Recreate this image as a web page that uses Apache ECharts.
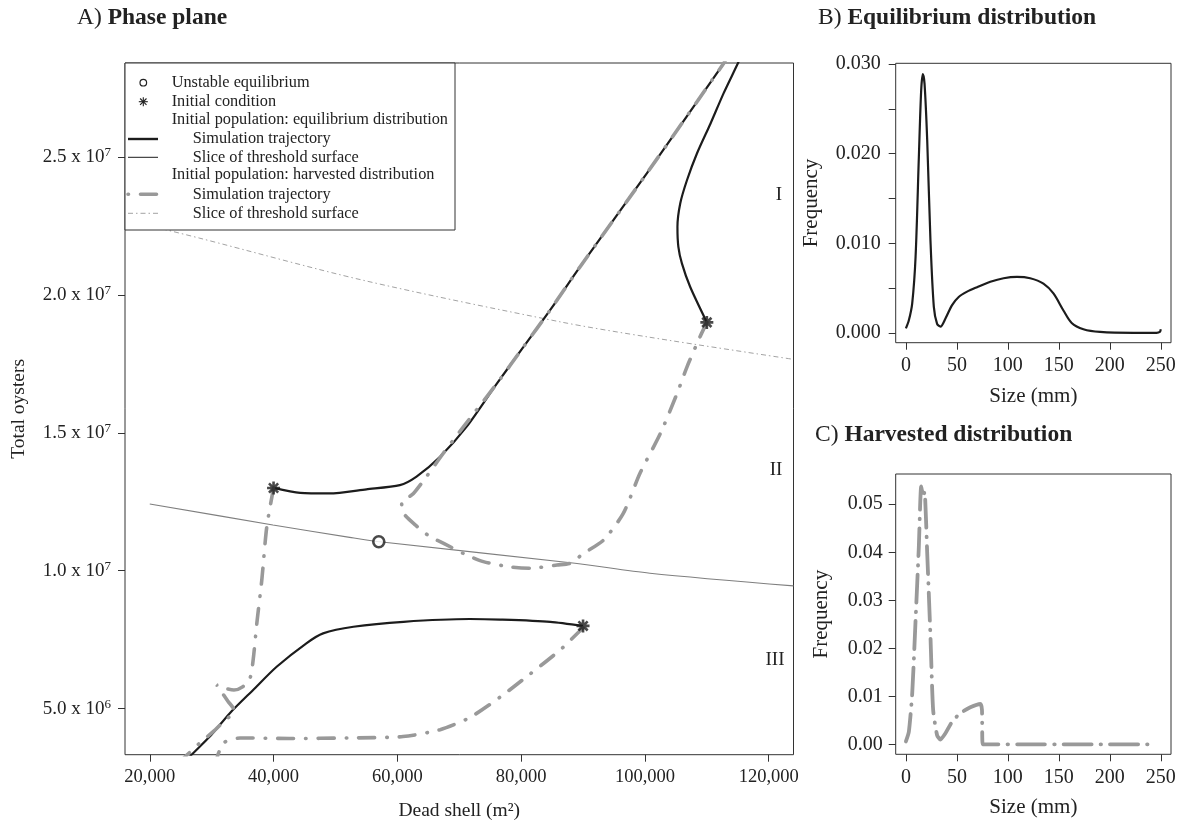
<!DOCTYPE html>
<html>
<head>
<meta charset="utf-8">
<title>Oyster phase plane</title>
<script src="https://cdn.jsdelivr.net/npm/echarts@6/dist/echarts.min.js"></script>
<style>
  html, body { margin: 0; padding: 0; background: #fff; }
  #chart { width: 1183px; height: 826px; }
</style>
</head>
<body>
<div id="chart"></div>
<script>
// values
const xTicks = [20000, 40000, 60000, 80000, 100000, 120000];
const yTicks = [5e6, 10e6, 15e6, 20e6, 25e6];
const sizeTicks = [0, 50, 100, 150, 200, 250];
const freqTicksB = [0, 0.005, 0.01, 0.015, 0.02, 0.025, 0.03];
const freqLabelsB = [0, 0.01, 0.02, 0.03];
const freqTicksC = [0, 0.01, 0.02, 0.03, 0.04, 0.05];

const unstableEq = [[57000, 11.05e6]];
const initialConds = [[110000, 19.0e6], [40000, 13.0e6], [90000, 8.0e6]];

// slices of the threshold surface
const sliceEquil = [[20000, 12.42e6], [39900, 11.66e6], [52300, 11.21e6], [56800, 11.06e6],
  [88700, 10.27e6], [100800, 9.91e6], [124000, 9.45e6]];
const sliceHarv = [[20000, 22.5e6], [28100, 22.05e6], [54400, 20.53e6], [86300, 19.02e6],
  [100800, 18.46e6], [124000, 17.66e6]];

// simulation trajectories, equilibrium initial distribution
const trajEquil1 = [[110000, 19.0e6], [107300, 20.29e6], [105970, 21.14e6], [105400, 21.74e6],
  [105250, 22.46e6], [105700, 23.31e6], [106800, 24.16e6], [108400, 25.12e6], [110600, 26.21e6],
  [112700, 27.30e6], [115000, 28.38e6], [115400, 28.6e6]];
const trajEquil2 = [[40000, 13.0e6], [44300, 12.82e6], [49000, 12.80e6], [55000, 12.95e6],
  [60400, 13.10e6], [63100, 13.41e6], [66900, 14.13e6], [71200, 15.22e6], [76100, 16.79e6],
  [80400, 18.12e6], [84700, 19.45e6], [89500, 21.01e6], [100300, 24.40e6], [112700, 28.38e6],
  [113000, 28.5e6]];
const trajEquil3 = [[90000, 8.0e6], [84700, 8.15e6], [76600, 8.23e6], [71700, 8.25e6],
  [61000, 8.15e6], [52900, 7.97e6], [48000, 7.73e6], [45300, 7.37e6], [40500, 6.52e6],
  [36700, 5.68e6], [32900, 4.83e6], [29700, 3.99e6], [26700, 3.32e6], [25800, 3.1e6]];

// simulation trajectories, harvested initial distribution
const trajHarv1 = [[110000, 19.0e6], [108900, 18.48e6], [106800, 17.39e6], [105200, 16.43e6],
  [102500, 14.98e6], [99200, 13.53e6], [96500, 12.08e6], [93300, 11.11e6], [90100, 10.63e6],
  [87900, 10.27e6], [85800, 10.21e6], [81500, 10.09e6], [78200, 10.14e6], [73900, 10.33e6],
  [71200, 10.57e6], [67400, 11.0e6], [65300, 11.23e6], [62900, 11.66e6], [61000, 12.08e6],
  [60700, 12.44e6], [62600, 12.80e6], [64700, 13.41e6], [67400, 14.25e6], [70700, 15.22e6],
  [76100, 16.79e6], [80400, 18.12e6], [84700, 19.45e6], [89500, 21.01e6], [100300, 24.40e6],
  [112700, 28.38e6], [113000, 28.5e6]];
const trajHarv2 = [[40000, 13.0e6], [38900, 11.58e6], [38100, 9.66e6], [37300, 8.10e6],
  [36700, 6.76e6], [36200, 6.11e6], [35000, 5.79e6], [33600, 5.68e6], [32000, 5.75e6],
  [30800, 5.86e6], [32600, 5.28e6], [33700, 4.92e6], [32000, 4.55e6], [30200, 4.16e6],
  [28100, 3.76e6], [26000, 3.32e6], [24900, 3.07e6]];
const trajHarv3 = [[90000, 7.93e6], [86300, 7.13e6], [81400, 6.25e6], [76600, 5.42e6],
  [71700, 4.68e6], [66900, 4.24e6], [60900, 3.99e6], [52300, 3.94e6], [42600, 3.92e6],
  [34600, 3.94e6], [32900, 3.87e6], [31900, 3.75e6], [31000, 3.33e6], [30800, 3.1e6]];

// size distributions
const sizeB = [0, 2.9, 6.2, 9.5, 12.7, 15.0, 16.6, 18.3, 20.9, 24.1, 27.4, 30.6, 33.9, 38.8,
  45.3, 51.8, 60, 69.8, 82.8, 95.8, 108.9, 121.9, 134.9, 144.7, 154.5, 162.6, 174.1, 190.4,
  223, 245.8, 249, 250];
const freqB = [0.0005, 0.0014, 0.0033, 0.0085, 0.0196, 0.0271, 0.0289, 0.0278, 0.0215, 0.0103,
  0.0029, 0.0010, 0.0007, 0.0016, 0.0031, 0.0040, 0.0046, 0.0051, 0.0057, 0.0061, 0.00625,
  0.0061, 0.0055, 0.0044, 0.0025, 0.0011, 0.0004, 0.0001, 0.0, 0.0, 0.0001, 0.0004];
const sizeC = [0, 2.9, 6.2, 9.5, 12.7, 15.0, 17.0, 18.3, 20.9, 24.1, 26.7, 30.6, 33.9, 38.8,
  45.3, 53.5, 63.2, 73.0, 74.6, 75.3, 79.5, 120, 160, 200, 242.5];
const freqC = [0.0006, 0.0026, 0.0106, 0.0259, 0.0412, 0.0537, 0.0516, 0.0526, 0.0398, 0.0224,
  0.0072, 0.0019, 0.0010, 0.0023, 0.0047, 0.0065, 0.0077, 0.0084, 0.0072, 0.0, 0.0, 0.0, 0.0,
  0.0, 0.0];

const FONT = '"Liberation Serif", "Times New Roman", serif';
const INK = '#1c1c1c';
const GREY = '#999999';
const harvDash = [16, 12, 0.5, 12];

const starPath = 'path://M-5,-1L5,-1L5,1L-5,1Z M-1,-5L1,-5L1,5L-1,5Z ' +
  'M-2.83,-4.24L4.24,2.83L2.83,4.24L-4.24,-2.83Z M-4.24,2.83L2.83,-4.24L4.24,-2.83L-2.83,4.24Z';

function zip(xs, ys) {
  return xs.map((x, i) => [x, ys[i]]);
}

function sci(v) {
  const e = Math.floor(Math.log10(v) + 1e-9);
  const m = v / Math.pow(10, e);
  return '{n|' + m.toFixed(1) + ' x 10}{s|' + e + '}';
}

const chart = echarts.init(document.getElementById('chart'));

function trajLine(data, grey) {
  return {
    type: 'line', xAxisIndex: 0, yAxisIndex: 0, data: data,
    showSymbol: false, symbol: 'none', smooth: 0.25, z: grey ? 4 : 3,
    lineStyle: grey
      ? { color: GREY, width: 3.6, type: harvDash, cap: 'round' }
      : { color: INK, width: 2.2 }
  };
}

const axisBase = {
  axisLine: { show: false, onZero: false },
  splitLine: { show: false },
  axisTick: { show: true, inside: false, length: 7, lineStyle: { color: '#333', width: 1 } }
};

// legend drawn by hand (R style box)
const legRows = [82.7, 101.7, 120, 139, 157.3, 175, 194.3, 213.3];
const legTexts = [
  [171.7, 'Unstable equilibrium'],
  [171.7, 'Initial condition'],
  [171.7, 'Initial population: equilibrium distribution'],
  [192.7, 'Simulation trajectory'],
  [192.7, 'Slice of threshold surface'],
  [171.7, 'Initial population: harvested distribution'],
  [192.7, 'Simulation trajectory'],
  [192.7, 'Slice of threshold surface']
];
const legend = [
  { type: 'rect', z: 50, shape: { x: 125, y: 63, width: 330, height: 167 },
    style: { fill: '#fff', stroke: '#333', lineWidth: 1 } },
  { type: 'circle', z: 51, shape: { cx: 143.3, cy: legRows[0], r: 3.3 },
    style: { fill: 'none', stroke: '#222', lineWidth: 1.2 } }
];
[[0, 4.5], [4.5, 0], [3.2, 3.2], [3.2, -3.2]].forEach(d => {
  legend.push({ type: 'line', z: 51,
    shape: { x1: 143.3 - d[0], y1: legRows[1] - d[1], x2: 143.3 + d[0], y2: legRows[1] + d[1] },
    style: { stroke: '#222', lineWidth: 1.1 } });
});
legend.push(
  { type: 'line', z: 51, shape: { x1: 128, y1: legRows[3], x2: 158, y2: legRows[3] },
    style: { stroke: INK, lineWidth: 2.4 } },
  { type: 'line', z: 51, shape: { x1: 128, y1: legRows[4], x2: 158, y2: legRows[4] },
    style: { stroke: INK, lineWidth: 1 } },
  { type: 'line', z: 51, shape: { x1: 128, y1: legRows[6], x2: 158, y2: legRows[6] },
    style: { stroke: GREY, lineWidth: 3.6, lineDash: harvDash, lineDashOffset: 28, lineCap: 'round' } },
  { type: 'line', z: 51, shape: { x1: 128, y1: legRows[7], x2: 158, y2: legRows[7] },
    style: { stroke: GREY, lineWidth: 0.9, lineDash: [5, 3, 1.5, 3] } }
);
legTexts.forEach((t, i) => {
  legend.push({ type: 'text', z: 51,
    style: { text: t[1], x: t[0], y: legRows[i], font: '16.3px ' + FONT, fill: '#222',
      textVerticalAlign: 'middle', verticalAlign: 'middle' } });
});

function panelTitle(x, y, tag, name) {
  return { type: 'text', z: 20,
    style: { x: x, y: y, text: '{r|' + tag + ' }{b|' + name + '}', fill: '#222',
      textVerticalAlign: 'middle', verticalAlign: 'middle',
      rich: { r: { fontSize: 23.5, fontFamily: FONT, fill: '#222' },
              b: { fontSize: 23.5, fontFamily: FONT, fontWeight: 'bold', fill: '#222' } } } };
}

function region(x, y, s) {
  return { type: 'text', z: 20,
    style: { x: x, y: y, text: s, font: '19px ' + FONT, fill: '#222',
      textAlign: 'center', align: 'center', textVerticalAlign: 'middle', verticalAlign: 'middle' } };
}

const gridBase = { show: true, borderColor: '#333', borderWidth: 1, containLabel: false, outerBoundsMode: 'none' };

const option = {
  animation: false,
  backgroundColor: '#fff',
  textStyle: { fontFamily: FONT },
  grid: [
    Object.assign({ left: 125, top: 63, width: 668.5, height: 691.7 }, gridBase),
    Object.assign({ left: 895.7, top: 63.3, width: 275.3, height: 279.4 }, gridBase),
    Object.assign({ left: 895.7, top: 474, width: 275.3, height: 280.3 }, gridBase)
  ],
  xAxis: [
    Object.assign({}, axisBase, {
      type: 'value', gridIndex: 0, min: 16000, max: 124000,
      name: 'Dead shell (m\u00b2)', nameLocation: 'middle', nameGap: 46,
      nameTextStyle: { fontSize: 19.5, fontFamily: FONT, color: '#222' },
      axisTick: Object.assign({}, axisBase.axisTick, { customValues: xTicks }),
      axisLabel: { customValues: xTicks, margin: 13, fontSize: 18.5, fontFamily: FONT, color: '#222',
        formatter: v => v.toLocaleString('en-US') }
    }),
    Object.assign({}, axisBase, {
      type: 'value', gridIndex: 1, min: -10, max: 260,
      name: 'Size (mm)', nameLocation: 'middle', nameGap: 43,
      nameTextStyle: { fontSize: 21, fontFamily: FONT, color: '#222' },
      axisTick: Object.assign({}, axisBase.axisTick, { customValues: sizeTicks }),
      axisLabel: { customValues: sizeTicks, margin: 13, fontSize: 20, fontFamily: FONT, color: '#222' }
    }),
    Object.assign({}, axisBase, {
      type: 'value', gridIndex: 2, min: -10, max: 260,
      name: 'Size (mm)', nameLocation: 'middle', nameGap: 43,
      nameTextStyle: { fontSize: 21, fontFamily: FONT, color: '#222' },
      axisTick: Object.assign({}, axisBase.axisTick, { customValues: sizeTicks }),
      axisLabel: { customValues: sizeTicks, margin: 13, fontSize: 20, fontFamily: FONT, color: '#222' }
    })
  ],
  yAxis: [
    Object.assign({}, axisBase, {
      type: 'value', gridIndex: 0, min: 3.333e6, max: 28.4e6,
      name: 'Total oysters', nameLocation: 'middle', nameGap: 96,
      nameTextStyle: { fontSize: 19.5, fontFamily: FONT, color: '#222' },
      axisTick: Object.assign({}, axisBase.axisTick, { customValues: yTicks }),
      axisLabel: { customValues: yTicks, margin: 14, formatter: sci,
        rich: {
          n: { fontSize: 19, fontFamily: FONT, color: '#222', lineHeight: 21 },
          s: { fontSize: 13, fontFamily: FONT, color: '#222', lineHeight: 13, verticalAlign: 'top' }
        } }
    }),
    Object.assign({}, axisBase, {
      type: 'value', gridIndex: 1, min: -0.0011, max: 0.0301,
      name: 'Frequency', nameLocation: 'middle', nameGap: 74,
      nameTextStyle: { fontSize: 21, fontFamily: FONT, color: '#222' },
      axisTick: Object.assign({}, axisBase.axisTick, { customValues: freqTicksB }),
      axisLabel: { customValues: freqLabelsB, margin: 15, fontSize: 20, fontFamily: FONT, color: '#222',
        formatter: v => v.toFixed(3) }
    }),
    Object.assign({}, axisBase, {
      type: 'value', gridIndex: 2, min: -0.00208, max: 0.0563,
      name: 'Frequency', nameLocation: 'middle', nameGap: 64,
      nameTextStyle: { fontSize: 21, fontFamily: FONT, color: '#222' },
      axisTick: Object.assign({}, axisBase.axisTick, { customValues: freqTicksC }),
      axisLabel: { customValues: freqTicksC, margin: 13, fontSize: 20, fontFamily: FONT, color: '#222',
        formatter: v => v.toFixed(2) }
    })
  ],
  graphic: [
    panelTitle(77, 17.5, 'A)', 'Phase plane'),
    panelTitle(818, 17.5, 'B)', 'Equilibrium distribution'),
    panelTitle(815, 435, 'C)', 'Harvested distribution'),
    region(779, 195, 'I'),
    region(776, 470, 'II'),
    region(775, 660, 'III')
  ].concat(legend),
  series: [
    { type: 'line', xAxisIndex: 0, yAxisIndex: 0, data: sliceEquil, symbol: 'none', smooth: 0.3, z: 2,
      lineStyle: { color: '#7f7f7f', width: 1.1 } },
    { type: 'line', xAxisIndex: 0, yAxisIndex: 0, data: sliceHarv, symbol: 'none', smooth: 0.3, z: 2,
      lineStyle: { color: GREY, width: 0.9, type: [5, 3, 1.5, 3] } },
    trajLine(trajEquil1, false),
    trajLine(trajEquil2, false),
    trajLine(trajEquil3, false),
    trajLine(trajHarv1, true),
    trajLine(trajHarv2, true),
    trajLine(trajHarv3, true),
    { type: 'scatter', xAxisIndex: 0, yAxisIndex: 0, data: unstableEq, z: 6,
      symbol: 'circle', symbolSize: 11,
      itemStyle: { color: '#fff', borderColor: INK, borderWidth: 2.6 } },
    { type: 'scatter', xAxisIndex: 0, yAxisIndex: 0, data: initialConds, z: 6,
      symbol: starPath, symbolSize: 13, itemStyle: { color: INK } },
    { type: 'line', xAxisIndex: 1, yAxisIndex: 1, data: zip(sizeB, freqB), symbol: 'none',
      smooth: 0.3, lineStyle: { color: INK, width: 2.2 } },
    { type: 'line', xAxisIndex: 2, yAxisIndex: 2, data: zip(sizeC, freqC), symbol: 'none',
      smooth: 0.2, lineStyle: { color: GREY, width: 3.8, type: [28, 9, 0.5, 9], cap: 'round' } }
  ]
};

chart.setOption(option);
</script>
</body>
</html>
